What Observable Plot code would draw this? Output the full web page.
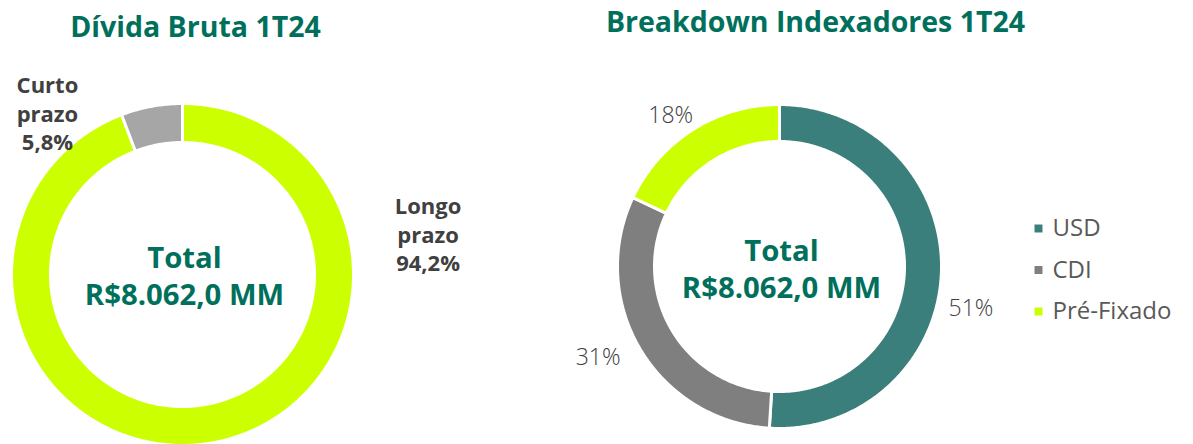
<!DOCTYPE html>
<html><head><meta charset="utf-8">
<script src="https://cdn.jsdelivr.net/npm/d3@7"></script>
<script src="https://cdn.jsdelivr.net/npm/@observablehq/plot@0.6"></script>
<style>body{margin:0;background:#fff}</style>
</head><body><div id="chart"></div>
<script>
// ---- data ----
const debtCategories = ["Longo prazo", "Curto prazo"];
const debtShares = [94.2, 5.8];
const debtLabels = ["Longo\nprazo\n94,2%", "Curto\nprazo\n5,8%"];
const indexCategories = ["USD", "CDI", "Pré-Fixado"];
const indexShares = [51, 31, 18];
const indexLabels = ["51%", "31%", "18%"];
const totalText = "Total\nR$8.062,0 MM";
const titles = ["Dívida Bruta 1T24", "Breakdown Indexadores 1T24"];

// ---- layout / style ----
const W = 1193, H = 444;
const FONT = "'Open Sans', sans-serif";
const layout = {
  debt:  {cx: 182, cy: 274, R: 171, r: 132, colors: ["#CCFF00", "#A6A6A6"],
          labelPolar: [[80.5, 249], [-39.8, 211]]},
  index: {cx: 779, cy: 266, R: 162, r: 125, colors: ["#3B7F7C", "#7F7F7F", "#CCFF00"],
          labelPolar: [[102.4, 196], [243.3, 203], [324.2, 186]]}
};
const titlePos = [[195, 27], [815, 22]];
const legendPos = {x: 1038, y0: 228, dy: 41.5};

const rad = a => a * Math.PI / 180;
function ring(cats, shares, L, key) {
  const total = d3.sum(shares);
  const rows = [];
  let acc = 0;
  shares.forEach((v, i) => {
    const a0 = acc / total * 2 * Math.PI, a1 = (acc + v) / total * 2 * Math.PI;
    acc += v;
    const n = Math.max(2, Math.ceil((a1 - a0) / 0.01));
    const id = key + i;
    for (let k = 0; k <= n; k++) {
      const a = a0 + (a1 - a0) * k / n;
      rows.push({id, cat: cats[i], x: L.cx + L.R * Math.sin(a), y: L.cy - L.R * Math.cos(a)});
    }
    for (let k = n; k >= 0; k--) {
      const a = a0 + (a1 - a0) * k / n;
      rows.push({id, cat: cats[i], x: L.cx + L.r * Math.sin(a), y: L.cy - L.r * Math.cos(a)});
    }
  });
  return rows;
}
function labelRows(labels, L) {
  return labels.map((t, i) => ({
    text: t,
    x: L.cx + L.labelPolar[i][1] * Math.sin(rad(L.labelPolar[i][0])),
    y: L.cy - L.labelPolar[i][1] * Math.cos(rad(L.labelPolar[i][0]))
  }));
}

const debtRing = ring(debtCategories, debtShares, layout.debt, "d");
const indexRing = ring(indexCategories, indexShares, layout.index, "i");
const colorDomain = [...debtCategories, ...indexCategories];
const colorRange = [...layout.debt.colors, ...layout.index.colors];

const legendRows = indexCategories.map((c, i) => ({cat: c, x: legendPos.x, y: legendPos.y0 + i * legendPos.dy}));

const chart = Plot.plot({
  width: W, height: H, margin: 0,
  x: {domain: [0, W], range: [0, W], axis: null},
  y: {domain: [0, H], range: [0, H], axis: null},
  color: {domain: colorDomain, range: colorRange},
  style: {fontFamily: FONT, background: "#fff"},
  marks: [
    Plot.line(debtRing, {x: "x", y: "y", z: "id", fill: "cat", stroke: "white", strokeWidth: 3, curve: "linear-closed"}),
    Plot.line(indexRing, {x: "x", y: "y", z: "id", fill: "cat", stroke: "white", strokeWidth: 3, curve: "linear-closed"}),
    Plot.text(titles.map((t, i) => ({t, x: titlePos[i][0], y: titlePos[i][1]})),
      {x: "x", y: "y", text: "t", fill: "#00705C", fontSize: 28.5, fontWeight: 700}),
    Plot.text([{t: totalText, x: layout.debt.cx + 2, y: layout.debt.cy}, {t: totalText, x: layout.index.cx + 2, y: layout.index.cy + 1}],
      {x: "x", y: "y", text: "t", fill: "#00705C", fontSize: 29.3, fontWeight: 700, lineHeight: 1.26}),
    Plot.text(labelRows(debtLabels, layout.debt),
      {x: "x", y: "y", text: "text", fill: "#404040", fontSize: 22, fontWeight: 700, lineHeight: 1.3}),
    Plot.text(labelRows(indexLabels, layout.index),
      {x: "x", y: "y", text: "text", fill: "#404040", fontSize: 23, fontWeight: 300}),
    Plot.dot(legendRows, {x: "x", y: "y", fill: "cat", symbol: "square", r: 4.5}),
    Plot.text(legendRows, {x: d => d.x + 14, y: "y", text: "cat", fill: "#595959", fontSize: 24, textAnchor: "start"})
  ]
});
document.getElementById("chart").append(chart);
</script>
</body></html>
